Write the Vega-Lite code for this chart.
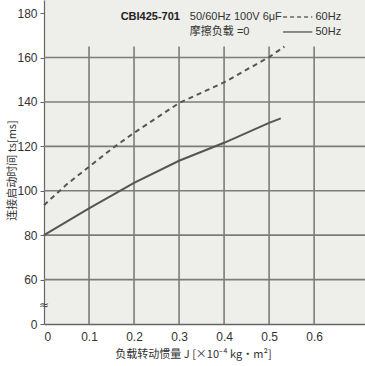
{
  "$schema": "https://vega.github.io/schema/vega-lite/v6.json",
  "width": 321,
  "height": 324,
  "autosize": {"type": "none"},
  "padding": {"left": 44, "top": 0, "right": 0, "bottom": 42},
  "background": "white",
  "config": {
    "view": {"fill": "#eeeeea", "stroke": null},
    "font": "Liberation Sans, Noto Sans CJK SC"
  },
  "datasets": {
    "curves": [
      {"J": 0.0, "t": 93.5, "s": "60Hz"},
      {"J": 0.05, "t": 102.8, "s": "60Hz"},
      {"J": 0.1, "t": 110.8, "s": "60Hz"},
      {"J": 0.15, "t": 118.8, "s": "60Hz"},
      {"J": 0.2, "t": 126.1, "s": "60Hz"},
      {"J": 0.3, "t": 139.5, "s": "60Hz"},
      {"J": 0.4, "t": 148.8, "s": "60Hz"},
      {"J": 0.5, "t": 160.2, "s": "60Hz"},
      {"J": 0.534, "t": 164.9, "s": "60Hz"},
      {"J": 0.0, "t": 80.0, "s": "50Hz"},
      {"J": 0.1, "t": 92.1, "s": "50Hz"},
      {"J": 0.2, "t": 103.6, "s": "50Hz"},
      {"J": 0.3, "t": 113.5, "s": "50Hz"},
      {"J": 0.4, "t": 121.6, "s": "50Hz"},
      {"J": 0.5, "t": 130.6, "s": "50Hz"},
      {"J": 0.526, "t": 132.6, "s": "50Hz"}
    ],
    "hgrid": [{"t": 60}, {"t": 80}, {"t": 100}, {"t": 120}, {"t": 140}, {"t": 160}],
    "vgrid": [
      {"J": 0.1, "t0": 40, "t1": 165},
      {"J": 0.2, "t0": 40, "t1": 165},
      {"J": 0.3, "t0": 40, "t1": 165},
      {"J": 0.4, "t0": 40, "t1": 165},
      {"J": 0.5, "t0": 40, "t1": 165},
      {"J": 0.6, "t0": 40, "t1": 165}
    ],
    "legendLines": [
      {"J0": 0.531, "J1": 0.596, "t": 178.2, "s": "60Hz"},
      {"J0": 0.531, "J1": 0.596, "t": 171.5, "s": "50Hz"}
    ],
    "notes": [
      {"J": 0.324, "t": 178.2, "txt": "50/60Hz 100V  6μF"},
      {"J": 0.324, "t": 171.4, "txt": "摩擦负载 =0"},
      {"J": 0.603, "t": 178.2, "txt": "60Hz"},
      {"J": 0.603, "t": 171.4, "txt": "50Hz"}
    ]
  },
  "encoding": {
    "x": {"type": "quantitative"},
    "y": {"type": "quantitative"}
  },
  "layer": [
    {
      "data": {"name": "hgrid"},
      "mark": {"type": "rule", "color": "#7c7c7a", "strokeWidth": 1.6},
      "encoding": {
        "y": {
          "field": "t", "type": "quantitative",
          "scale": {"domain": [40, 185.9], "nice": false, "zero": false},
          "axis": {
            "values": [40, 60, 80, 100, 120, 140, 160, 180],
            "labelExpr": "datum.value == 40 ? '0' : datum.label",
            "title": "连接启动时间 ts[ms]",
            "titleFont": "Noto Sans CJK SC",
            "titleFontSize": 11,
            "titleFontWeight": "normal",
            "titleColor": "#333",
            "titleX": -32,
            "titleY": 170,
            "titleBaseline": "middle",
            "grid": false,
            "domainColor": "#666",
            "domainWidth": 1.2,
            "tickColor": "#666",
            "tickSize": 4,
            "labelFontSize": 12,
            "labelColor": "#333",
            "labelFont": "Liberation Sans",
            "labelPadding": 3
          }
        }
      }
    },
    {
      "data": {"name": "vgrid"},
      "mark": {"type": "rule", "color": "#7c7c7a", "strokeWidth": 1.6},
      "encoding": {
        "x": {
          "field": "J", "type": "quantitative",
          "scale": {"domain": [0, 0.713], "nice": false, "zero": false},
          "axis": {
            "values": [0, 0.1, 0.2, 0.3, 0.4, 0.5, 0.6],
            "labelExpr": "datum.value == 0 ? '0' : format(datum.value, '.1f')",
            "title": "负载转动惯量 J [×10⁻⁴ kg·m²]",
            "titleFont": "Noto Sans CJK SC",
            "titleFontSize": 11,
            "titleFontWeight": "normal",
            "titleColor": "#333",
            "titleX": 149,
            "titlePadding": 6,
            "grid": false,
            "ticks": false,
            "domainColor": "#666",
            "domainWidth": 1.5,
            "labelFontSize": 12,
            "labelColor": "#333",
            "labelFont": "Liberation Sans",
            "labelPadding": 7
          }
        },
        "y": {"field": "t0", "type": "quantitative"},
        "y2": {"field": "t1"}
      }
    },
    {
      "data": {"name": "curves"},
      "transform": [{"filter": "datum.s == '60Hz'"}],
      "mark": {"type": "line", "color": "#555555", "strokeWidth": 2, "strokeDash": [5, 4]},
      "encoding": {
        "x": {"field": "J", "type": "quantitative"},
        "y": {"field": "t", "type": "quantitative"}
      }
    },
    {
      "data": {"name": "curves"},
      "transform": [{"filter": "datum.s == '50Hz'"}],
      "mark": {"type": "line", "color": "#555555", "strokeWidth": 2},
      "encoding": {
        "x": {"field": "J", "type": "quantitative"},
        "y": {"field": "t", "type": "quantitative"}
      }
    },
    {
      "data": {"name": "legendLines"},
      "transform": [{"filter": "datum.s == '60Hz'"}],
      "mark": {"type": "rule", "color": "#666", "strokeWidth": 1.5, "strokeDash": [4, 3]},
      "encoding": {
        "x": {"field": "J0", "type": "quantitative"},
        "x2": {"field": "J1"},
        "y": {"field": "t", "type": "quantitative"}
      }
    },
    {
      "data": {"name": "legendLines"},
      "transform": [{"filter": "datum.s == '50Hz'"}],
      "mark": {"type": "rule", "color": "#666", "strokeWidth": 1.5},
      "encoding": {
        "x": {"field": "J0", "type": "quantitative"},
        "x2": {"field": "J1"},
        "y": {"field": "t", "type": "quantitative"}
      }
    },
    {
      "data": {"name": "notes"},
      "mark": {"type": "text", "align": "left", "baseline": "middle", "fontSize": 11, "color": "#333"},
      "encoding": {
        "x": {"field": "J", "type": "quantitative"},
        "y": {"field": "t", "type": "quantitative"},
        "text": {"field": "txt"}
      }
    },
    {
      "data": {"values": [{"J": 0.302, "t": 178.2, "txt": "CBI425-701"}]},
      "mark": {"type": "text", "align": "right", "baseline": "middle", "fontSize": 11, "fontWeight": "bold", "color": "#222", "font": "Liberation Sans"},
      "encoding": {
        "x": {"field": "J", "type": "quantitative"},
        "y": {"field": "t", "type": "quantitative"},
        "text": {"field": "txt"}
      }
    },
    {
      "data": {"values": [{"J": 0.0, "t": 48.5, "txt": "≈"}]},
      "mark": {"type": "text", "align": "center", "baseline": "middle", "fontSize": 12, "color": "#444", "font": "DejaVu Sans"},
      "encoding": {
        "x": {"field": "J", "type": "quantitative"},
        "y": {"field": "t", "type": "quantitative"},
        "text": {"field": "txt"}
      }
    }
  ]
}
